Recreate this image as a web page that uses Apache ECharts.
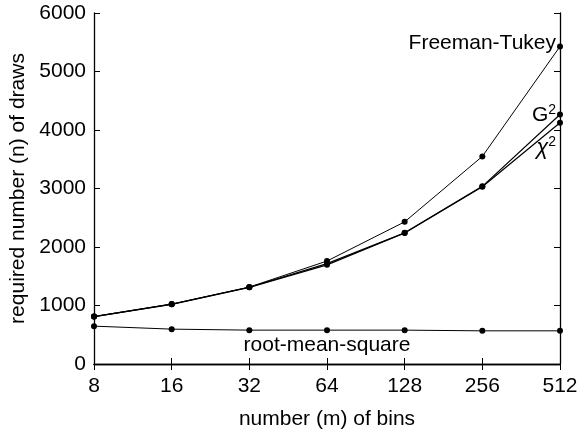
<!DOCTYPE html>
<html>
<head>
<meta charset="utf-8">
<script src="https://cdn.jsdelivr.net/npm/echarts@6/dist/echarts.min.js"></script>
<style>
  html, body { margin: 0; padding: 0; background: #fff; }
  #chart { width: 581px; height: 430px; }
</style>
</head>
<body>
<div id="chart"></div>
<script>
// number of bins (log2-spaced)
const bins = ['8', '16', '32', '64', '128', '256', '512'];
// required number of draws for each statistic
const freemanTukey = [811, 1025, 1315, 1760, 2430, 3549, 5428];
const gSquared     = [811, 1022, 1312, 1715, 2242, 3037, 4264];
const chiSquared   = [811, 1020, 1310, 1695, 2240, 3030, 4123];
const rootMeanSq   = [647, 596, 579, 579, 579, 567, 567];
const yTicks = [0, 1000, 2000, 3000, 4000, 5000, 6000];

const FONT = '"Liberation Sans", Arial, Helvetica, sans-serif';
const FS = 21;
const chart = echarts.init(document.getElementById('chart'));

function lineSeries(name, data, width, label) {
  return {
    name: name,
    type: 'line',
    data: data.map((v, i) => label && label.index === i
      ? { value: v, label: Object.assign({ show: true }, label.opts) }
      : v),
    symbol: 'circle',
    symbolSize: 6,
    showAllSymbol: true,
    itemStyle: { color: '#000' },
    lineStyle: { color: '#000', width: width },
    label: { show: false, color: '#000', fontFamily: FONT, fontSize: FS },
    emphasis: { disabled: true },
    animation: false,
    z: 3
  };
}

const frameAxis = {
  axisLine: { show: true, lineStyle: { color: '#000', width: 1.3 } },
  axisTick: { show: true, inside: true, length: 6, lineStyle: { color: '#000' } },
  splitLine: { show: false }
};

const option = {
  backgroundColor: '#fff',
  grid: {
    left: 94, right: 21, top: 13, bottom: 66,
    containLabel: false,
    outerBoundsMode: 'none'
  },
  xAxis: [
    Object.assign({}, frameAxis, {
      type: 'category',
      data: bins,
      boundaryGap: false,
      name: 'number (m) of bins',
      nameLocation: 'middle',
      nameGap: 45,
      nameTextStyle: { color: '#000', fontFamily: FONT, fontSize: FS },
      axisLabel: { color: '#000', fontFamily: FONT, fontSize: FS, margin: 12 }
    }),
    Object.assign({}, frameAxis, {
      type: 'category',
      data: bins,
      boundaryGap: false,
      position: 'top',
      axisLabel: { show: false }
    })
  ],
  yAxis: [
    Object.assign({}, frameAxis, {
      type: 'value',
      min: yTicks[0],
      max: yTicks[yTicks.length - 1],
      interval: 1000,
      name: 'required number (n) of draws',
      nameLocation: 'middle',
      nameGap: 62,
      nameTextStyle: { color: '#000', fontFamily: FONT, fontSize: FS },
      axisLabel: {
        color: '#000', fontFamily: FONT, fontSize: FS, margin: 8,
        formatter: v => String(v)
      }
    }),
    Object.assign({}, frameAxis, {
      type: 'value',
      min: yTicks[0],
      max: yTicks[yTicks.length - 1],
      interval: 1000,
      position: 'right',
      axisLabel: { show: false }
    })
  ],
  series: [
    lineSeries('Freeman-Tukey', freemanTukey, 1, {
      index: 6,
      opts: { position: 'left', distance: 1, offset: [0, -3], formatter: 'Freeman-Tukey' }
    }),
    lineSeries('G2', gSquared, 1.2, {
      index: 6,
      opts: {
        position: 'left', distance: 1, offset: [0, 1],
        formatter: '{b|G}{s|2}',
        rich: {
          b: { fontFamily: FONT, fontSize: FS, color: '#000' },
          s: { fontFamily: FONT, fontSize: 14, color: '#000', verticalAlign: 'top', padding: [0, 0, 10, 0] }
        }
      }
    }),
    lineSeries('chi2', chiSquared, 1.2, {
      index: 6,
      opts: {
        position: 'left', distance: 1, offset: [0, 25],
        formatter: '{b|χ}{s|2}',
        rich: {
          b: { fontFamily: FONT, fontSize: 22, fontStyle: 'italic', color: '#000' },
          s: { fontFamily: FONT, fontSize: 14, color: '#000', verticalAlign: 'top', padding: [0, 0, 12, 0] }
        }
      }
    }),
    lineSeries('root-mean-square', rootMeanSq, 1, {
      index: 3,
      opts: { position: 'bottom', distance: 2, formatter: 'root-mean-square' }
    })
  ]
};

chart.setOption(option);
</script>
</body>
</html>
